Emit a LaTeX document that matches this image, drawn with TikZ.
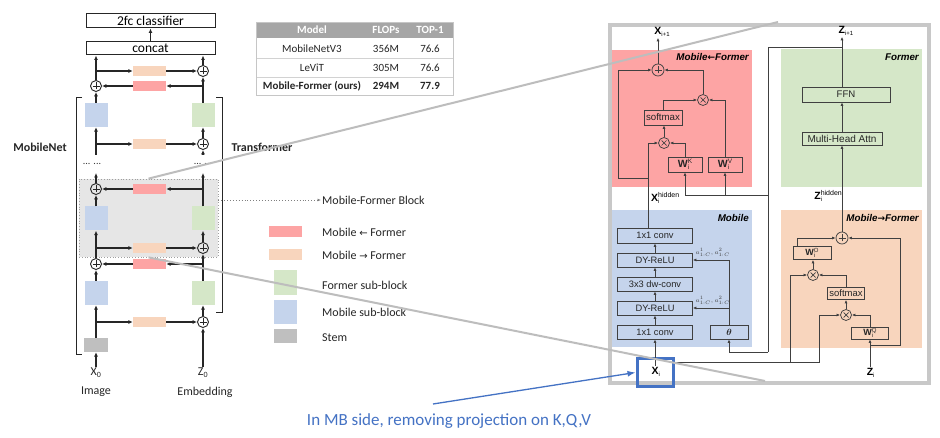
\documentclass[tikz,border=0pt]{standalone}
\usepackage{fontspec}
\usepackage{amsmath}
\newfontfamily\ui{Carlito}
\newfontfamily\rf{Liberation Sans}
\newfontfamily\dv{DejaVu Sans}
\usetikzlibrary{arrows.meta,calc}
\newcommand{\setfs}[1]{\fontsize{#1}{#1}\selectfont}
\newcommand{\wmat}[3]{{\bfseries\setfs{#1}W}\rlap{\raisebox{-2pt}{\setfs{#2}i}}\raisebox{3.5pt}{\setfs{#2}#3}}
\newcommand{\bsym}[3]{{\bfseries #1}\rlap{\raisebox{-2pt}{\setfs{6}#2}}\raisebox{4pt}{\setfs{7}#3}}
\definecolor{mobblue}{HTML}{C5D4EC}
\definecolor{frmgreen}{HTML}{D5E7C8}
\definecolor{peach}{HTML}{F8D5BD}
\definecolor{f2mred}{HTML}{FDA4A4}
\definecolor{stemgray}{HTML}{BFBFBF}
\definecolor{blockgray}{HTML}{E6E6E6}
\definecolor{framegray}{HTML}{C8C8C8}
\definecolor{annblue}{HTML}{4472C4}
\definecolor{hdrgray}{HTML}{A6A6A6}
\definecolor{linegray}{HTML}{404040}
\definecolor{zoomgray}{HTML}{BDBDBD}
\begin{document}
\begin{tikzpicture}[x=1pt,y=-1pt,
 ln/.style={draw=black!85, line width=1.2pt},
 arr/.style={ln, -{Latex[length=4.5pt,width=4pt]}},
 rln/.style={draw=linegray, line width=0.75pt},
 rarr/.style={rln, -{Latex[length=3.5pt,width=3pt]}},
 lbox/.style={draw=black!85, line width=1pt, minimum width=129pt, inner sep=0pt, font=\ui\setfs{13.5}},
 msub/.style={fill=mobblue, minimum width=23pt, minimum height=24pt, inner sep=0pt},
 fsub/.style={fill=frmgreen, minimum width=23pt, minimum height=24pt, inner sep=0pt},
 mtof/.style={fill=peach, minimum width=33pt, minimum height=10pt, inner sep=0pt},
 ftom/.style={fill=f2mred, minimum width=33pt, minimum height=10pt, inner sep=0pt},
 lplus/.style={circle, draw=black!85, line width=0.9pt, minimum size=11pt, inner sep=0pt,
   path picture={\draw[line width=0.7pt] ([xshift=-3.5pt]path picture bounding box.center) -- ([xshift=3.5pt]path picture bounding box.center) ([yshift=-3.5pt]path picture bounding box.center) -- ([yshift=3.5pt]path picture bounding box.center);}},
 rplus/.style={circle, draw=linegray, line width=0.75pt, minimum size=12pt, inner sep=0pt,
   path picture={\draw[line width=0.75pt, linegray] ([xshift=-3.5pt]path picture bounding box.center) -- ([xshift=3.5pt]path picture bounding box.center) ([yshift=-3.5pt]path picture bounding box.center) -- ([yshift=3.5pt]path picture bounding box.center);}},
 rtimes/.style={circle, draw=linegray, line width=0.75pt, minimum size=11pt, inner sep=0pt,
   path picture={\draw[line width=0.7pt, linegray] ([shift={(-2.5pt,-2.5pt)}]path picture bounding box.center) -- ([shift={(2.5pt,2.5pt)}]path picture bounding box.center) ([shift={(-2.5pt,2.5pt)}]path picture bounding box.center) -- ([shift={(2.5pt,-2.5pt)}]path picture bounding box.center);}},
 rbox/.style={draw=linegray, line width=0.7pt, inner sep=0pt, font=\rf\setfs{9.3}, text=black!85},
 ptitle/.style={anchor=east, inner sep=1pt, font=\rf\bfseries\itshape\setfs{9.8}},
 lab/.style={font=\ui\setfs{12}, inner sep=1pt, text=black!85},
 leg/.style={anchor=west, font=\ui\setfs{12}, inner sep=1pt, text=black!85},
 tab/.style={font=\ui\setfs{11}, inner sep=1pt, text=black!85},
 rlab/.style={font=\rf\setfs{10.5}, inner sep=1pt},
]
\useasboundingbox (0,0) rectangle (940,438);
\fill[white] (0,0) rectangle (940,438);

% ---------------- left architecture ----------------
\node (mfb) [draw=gray!75, dotted, line width=0.8pt, fill=blockgray, minimum width=139pt, minimum height=78pt, inner sep=0pt] at (148.5,218) {};

\node (cls) [lbox, minimum height=14pt] at (150.5,21) {2fc classifier};
\node (cat) [lbox, minimum height=13pt] at (150.5,48.5) {concat};

\node (o1) [mtof] at (149.5,71) {};
\node (p1) [lplus] at (203,71) {};
\node (r1) [ftom] at (149.5,86) {};
\node (p2) [lplus] at (96,86) {};
\node (b1) [msub] at (96,115) {};
\node (g1) [fsub] at (203,115) {};
\node (o2) [mtof] at (149.5,144) {};
\node (p3) [lplus] at (203,144) {};
\coordinate (sL1) at (96,155);
\coordinate (sR1) at (203,155);
\node (dL) [font=\ui\setfs{10}, inner sep=0pt, text=black!80] at (92,164) {... ...};
\node (dR) [font=\ui\setfs{10}, inner sep=0pt, text=black!80] at (203,164) {... ...};
\coordinate (eL) at (96,173);
\coordinate (eR) at (203,173);
\node (r2) [ftom] at (149.5,189) {};
\node (p4) [lplus] at (96,189) {};
\node (b2) [msub] at (96,218.5) {};
\node (g2) [fsub] at (203,218.5) {};
\node (o3) [mtof] at (149.5,248) {};
\node (p5) [lplus] at (203,248) {};
\node (r3) [ftom] at (149.5,264) {};
\node (p6) [lplus] at (96,264) {};
\node (b3) [msub] at (96,293) {};
\node (g3) [fsub] at (203,293) {};
\node (o4) [mtof] at (149.5,322) {};
\node (p7) [lplus] at (203,322) {};
\node (stem) [fill=stemgray, minimum width=24pt, minimum height=14pt, inner sep=0pt] at (96,345) {};
\node (x0) [lab] at (96,373) {X\textsubscript{0}};
\node (z0) [lab] at (203,373) {Z\textsubscript{0}};
\node (img) [lab] at (96,392) {Image};
\node (emb) [lab] at (205,392) {Embedding};

\draw[arr] (cat.north) -- (cls.south);
% left column
\draw[arr] (x0.north) -- (x0.north |- stem.south);
\draw[arr] (stem.north) -- (b3.south);
\draw[arr] (stem.north |- o4) -- (o4.west);
\draw[arr] (o4.east) -- (p7.west);
\draw[arr] (b3.north) -- (p6.south);
\draw[arr] (p6.north) -- (b2.south);
\draw[arr] (p6.north |- o3) -- (o3.west);
\draw[arr] (o3.east) -- (p5.west);
\draw[arr] (b2.north) -- (p4.south);
\draw[arr] (p4.north) -- (eL);
\draw[arr] (sL1) -- (b1.south);
\draw[arr] (sL1 |- o2) -- (o2.west);
\draw[arr] (o2.east) -- (p3.west);
\draw[arr] (b1.north) -- (p2.south);
\draw[arr] (p2.north) -- (p2.north |- cat.south);
\draw[arr] (p2.north |- o1) -- (o1.west);
\draw[arr] (o1.east) -- (p1.west);
% right column
\draw[arr] (z0.north) -- (p7.south);
\draw[arr] (p7.north) -- (g3.south);
\draw[arr] (g3.north) -- (p5.south);
\draw[arr] (g3.north |- r3) -- (r3.east);
\draw[arr] (r3.west) -- (p6.east);
\draw[arr] (p5.north) -- (g2.south);
\draw[arr] (g2.north) -- (eR);
\draw[arr] (g2.north |- r2) -- (r2.east);
\draw[arr] (r2.west) -- (p4.east);
\draw[arr] (sR1) -- (p3.south);
\draw[arr] (p3.north) -- (g1.south);
\draw[arr] (g1.north) -- (p1.south);
\draw[arr] (g1.north |- r1) -- (r1.east);
\draw[arr] (r1.west) -- (p2.east);
\draw[arr] (p1.north) -- (p1.north |- cat.south);

% brackets and side labels
\draw[black!85, line width=1pt] (82,98) -- (76,98) -- (76,355) -- (82,355);
\draw[black!85, line width=1pt] (216,98) -- (222,98) -- (222,313) -- (216,313);
\node (lmn) [lab, font=\ui\bfseries\setfs{12}] at (40,147) {MobileNet};
\node (ltr) [lab, font=\ui\bfseries\setfs{12}] at (262,147) {Transformer};

% ---------------- table ----------------
\fill[hdrgray] (256,22) rectangle (453,38);
\draw[gray!35, line width=0.6pt] (256,58) -- (453,58) (256,77) -- (453,77);
\node (tbl) [draw=gray!45, line width=0.6pt, minimum width=197pt, minimum height=73pt, inner sep=0pt, anchor=north west] at (256,22) {};
\node (h1) [tab, text=white, font=\ui\bfseries\setfs{11}] at (312,30) {Model};
\node (h2) [tab, text=white, font=\ui\bfseries\setfs{11}] at (386,30) {FLOPs};
\node (h3) [tab, text=white, font=\ui\bfseries\setfs{11}] at (430,30) {TOP-1};
\node (a1) [tab] at (312,48.5) {MobileNetV3};
\node (a2) [tab] at (386,48.5) {356M};
\node (a3) [tab] at (430,48.5) {76.6};
\node (b1t) [tab] at (312,67.5) {LeViT};
\node (b2t) [tab] at (386,67.5) {305M};
\node (b3t) [tab] at (430,67.5) {76.6};
\node (c1) [tab, font=\ui\bfseries\setfs{11}] at (312,86) {Mobile-Former (ours)};
\node (c2) [tab, font=\ui\bfseries\setfs{11}] at (386,86) {294M};
\node (c3) [tab, font=\ui\bfseries\setfs{11}] at (430,86) {77.9};

% ---------------- legend ----------------
\node (lgblk) [leg] at (321,200) {Mobile-Former Block};
\draw[gray, dotted, line width=0.9pt, -{Latex[length=3.5pt,width=3pt]}] (mfb.east |- lgblk) -- (lgblk.west);
\node (sw1) [fill=f2mred, minimum width=33pt, minimum height=11pt, inner sep=0pt] at (285.5,231.5) {};
\node (lg1) [leg] at (321,232) {Mobile {\dv\setfs{10}←} Former};
\node (sw2) [fill=peach, minimum width=33pt, minimum height=11pt, inner sep=0pt] at (285.5,254.5) {};
\node (lg2) [leg] at (321,255) {Mobile {\dv\setfs{10}→} Former};
\node (sw3) [fill=frmgreen, minimum width=23pt, minimum height=25pt, inner sep=0pt] at (285.5,282.5) {};
\node (lg3) [leg] at (321,285) {Former sub-block};
\node (sw4) [fill=mobblue, minimum width=23pt, minimum height=24pt, inner sep=0pt] at (285.5,312) {};
\node (lg4) [leg] at (321,312) {Mobile sub-block};
\node (sw5) [fill=stemgray, minimum width=23pt, minimum height=14pt, inner sep=0pt] at (285.5,336) {};
\node (lg5) [leg] at (321,338) {Stem};

% ---------------- right detail panel ----------------
\node (frame) [draw=framegray, line width=4pt, fill=white, minimum width=319pt, minimum height=358pt, inner sep=0pt, anchor=north west] at (608,23) {};
\node (pMF) [fill=f2mred, minimum width=140pt, minimum height=137pt, inner sep=0pt, anchor=north west] at (612,50) {};
\node (pF) [fill=frmgreen, minimum width=141pt, minimum height=138pt, inner sep=0pt, anchor=north west] at (781,49) {};
\node (pM) [fill=mobblue, minimum width=140pt, minimum height=137pt, inner sep=0pt, anchor=north west] at (612,210) {};
\node (pFM) [fill=peach, minimum width=141pt, minimum height=138pt, inner sep=0pt, anchor=north west] at (781,210) {};

\node (tMF) [ptitle] at (750,57) {Mobile{\dv\bfseries\setfs{9}←}Former};
\node (tF) [ptitle] at (920,57) {Former};
\node (tM) [ptitle] at (750,218) {Mobile};
\node (tFM) [ptitle] at (920,218) {Mobile{\dv\bfseries\setfs{9}→}Former};

% Mobile sub-block
\node (mc2) [rbox, minimum width=75pt, minimum height=15pt] at (655,235.5) {1x1 conv};
\node (dr2) [rbox, minimum width=75pt, minimum height=14pt] at (655,260) {DY-ReLU};
\node (dw) [rbox, minimum width=75pt, minimum height=14pt] at (655,284) {3x3 dw-conv};
\node (dr1) [rbox, minimum width=75pt, minimum height=14pt] at (655,308) {DY-ReLU};
\node (mc1) [rbox, minimum width=75pt, minimum height=14pt] at (655,332) {1x1 conv};
\node (th) [rbox, minimum width=38pt, minimum height=14pt] at (729,332) {$\boldsymbol{\theta}$};
\draw[rarr] (mc1.north) -- (dr1.south);
\draw[rarr] (dr1.north) -- (dw.south);
\draw[rarr] (dw.north) -- (dr2.south);
\draw[rarr] (dr2.north) -- (mc2.south);
\draw[rarr] (th.north) |- (dr2.east);
\draw[rarr] (th.north |- dr1.east) -- (dr1.east);
\node (al2) [anchor=south west, inner sep=0.5pt, font=\setfs{6.5}, text=black!75] at (695,257) {$a^1_{1:C}, a^2_{1:C}$};
\node (al1) [anchor=south west, inner sep=0.5pt, font=\setfs{6.5}, text=black!75] at (695,305) {$a^1_{1:C}, a^2_{1:C}$};

% Mobile <- Former
\node (add1) [rplus] at (658,70) {};
\node (mulT) [rtimes] at (703,100) {};
\node (smx1) [rbox, minimum width=38pt, minimum height=15pt, font=\rf\setfs{9.7}] at (663,117.5) {softmax};
\node (mulB) [rtimes] at (664,143) {};
\node (wk) [rbox, minimum width=34pt, minimum height=15pt] at (685,164.5) {\wmat{10.5}{6.5}{K}};
\node (wv) [rbox, minimum width=34pt, minimum height=15pt] at (725,164.5) {\wmat{10.5}{6.5}{V}};
\node (xip1) [rlab] at (662,32) {{\bfseries X}\raisebox{-2pt}{\setfs{6}i+1}};
\coordinate (hx) at (648,178);
\draw[rln] ([xshift=-7pt]mc2.north) -- (hx);
\draw[rarr] (hx) -- (hx |- mulB) -- (mulB.west);
\draw[rarr] (hx) -- ++(-30,0) |- (add1.west);
\draw[rarr] (wk.north) |- (mulB.east);
\draw[rarr] (mulB.north) -- (mulB.north |- smx1.south);
\draw[rarr] (smx1.north) |- (mulT.west);
\draw[rarr] (wv.north) |- (mulT.east);
\draw[rarr] (mulT.north) |- (add1.east);
\draw[rarr] (add1.north) -- (add1.north |- xip1.south);
\node (xh) [rlab, anchor=west] at (650,198) {\bsym{X}{i}{hidden}};

% Former
\node (mha) [rbox, minimum width=80pt, minimum height=13pt, font=\rf\setfs{10}] at (842,138.5) {Multi-Head Attn};
\node (ffn) [rbox, minimum width=88pt, minimum height=15pt, font=\rf\setfs{9.6}] at (846,94.5) {FFN};
\node (zip1) [rlab] at (846,31) {{\bfseries Z}\raisebox{-2pt}{\setfs{6}i+1}};
\draw[rarr] (mha.north) -- (mha.north |- ffn.south);
\draw[rarr] (mha.north |- ffn.north) -- (mha.north |- zip1.south);
\coordinate (zt) at (842,47);
\coordinate (zc) at (768,47);
\coordinate (zk) at (768,195);
\coordinate (zd) at (768,352);
\draw[rln] (zt) -- (zc) -- (zd);
\draw[rarr] (zd) -| (th.south);
\draw[rarr] (zk) -| (wv.south);
\draw[rarr] (zk) -| (wk.south);
\node (zh) [rlab, anchor=east] at (843,196) {\bsym{Z}{i}{hidden}\hspace{14pt}};

% Mobile -> Former
\node (add2) [rplus] at (842,238) {};
\node (wo) [rbox, minimum width=38pt, minimum height=13pt] at (812,253) {\wmat{9}{6}{O}};
\node (mulU) [rtimes] at (813,275) {};
\node (smx2) [rbox, minimum width=37pt, minimum height=12pt, font=\rf\setfs{9.5}] at (846,293.5) {softmax};
\node (mulL) [rtimes] at (846,315) {};
\node (wq) [rbox, minimum width=37pt, minimum height=12pt] at (870,333) {\wmat{9}{6}{Q}};
\node (zi) [rlab] at (870,373) {\bsym{Z}{i}{}};
\draw[rarr] (add2.north) -- (mha.south);
\draw[rarr] (zi.north) -- (zi.north |- wq.south);
\coordinate (zq) at (870,345);
\coordinate (zr) at (900,345);
\draw[rarr] (zq) -- (zr) |- (add2.east);
\draw[rarr] (wq.north) |- (mulL.east);
\draw[rarr] (mulL.north) -- (mulL.north |- smx2.south);
\draw[rarr] (smx2.north) |- (mulU.east);
\draw[rarr] (mulU.north) -- (mulU.north |- wo.south);
\draw[rarr] ([xshift=-15pt]wo.north) |- (add2.west);

% X_i input
\node (xi) [rlab] at (655,372) {\bsym{X}{i}{}};
\node (xibox) [draw=annblue, line width=3pt, minimum width=36pt, minimum height=27pt, inner sep=0pt] at (655,372.5) {};
\draw[rarr] (xi.north) -- (xi.north |- mc1.south);
\coordinate (xm) at (790,362);
\coordinate (xr) at (819,362);
\draw[rarr] (xibox.east |- xr) -- (xr) |- (mulL.west);
\draw[rarr] (xm) |- (mulU.west);

% zoom lines
\coordinate (zt1) at (778,22);
\coordinate (zb1) at (765,381);
\draw[zoomgray, line width=2pt] (mfb.north) -- (zt1);
\draw[zoomgray, line width=2pt] (mfb.south) -- (zb1);

% annotation
\node (ann) [text=annblue, font=\ui\setfs{17}, inner sep=0pt] at (449,421) {In MB side, removing projection on K,Q,V};
\coordinate (as) at (433,404);
\draw[annblue, line width=1.3pt, -{Latex[length=8pt,width=6pt]}] (as) -- (xibox.west);
\end{tikzpicture}
\end{document}
